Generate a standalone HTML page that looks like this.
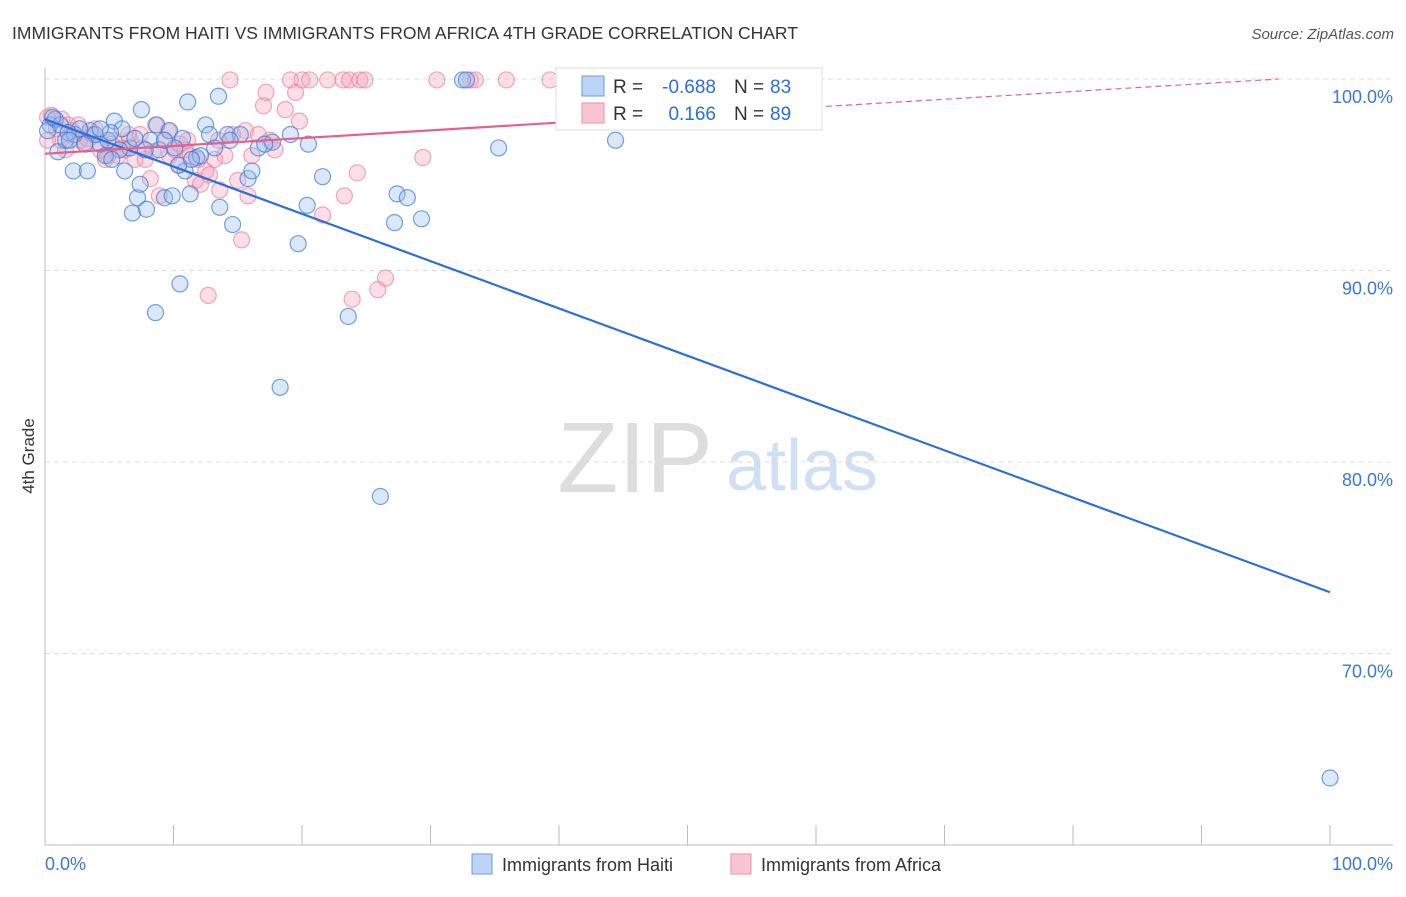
<!DOCTYPE html>
<html><head><meta charset="utf-8"><style>
body{margin:0;background:#fff;font-family:"Liberation Sans",sans-serif;}
svg text{font-family:"Liberation Sans",sans-serif;}
</style></head><body>
<svg id="chart" width="1406" height="892" viewBox="0 0 1406 892" xmlns="http://www.w3.org/2000/svg">
<text x="12" y="39" font-size="17.5" fill="#333">IMMIGRANTS FROM HAITI VS IMMIGRANTS FROM AFRICA 4TH GRADE CORRELATION CHART</text>
<text x="1394" y="39" font-size="15" fill="#555" text-anchor="end" font-style="italic">Source: ZipAtlas.com</text>
<g>
<text x="635" y="492" font-size="100" fill="#ddd" text-anchor="middle" font-family="Liberation Serif">ZIP</text>
<text x="802" y="490" font-size="72" fill="#cfe0f3" text-anchor="middle">atlas</text>
</g>
<g id="grid"></g>
<g id="axes"></g>
<g id="pts"></g>
<g id="lines"></g>
<text transform="translate(34,456) rotate(-90)" font-size="17" fill="#333" text-anchor="middle">4th Grade</text>
<g>
<rect x="556" y="68" width="266" height="62" fill="#fff" stroke="#ddd"/>
<rect x="582" y="76" width="22" height="20" fill="#bcd4f5" stroke="#6a9ee6"/>
<rect x="582" y="103" width="22" height="20" fill="#f9c4d3" stroke="#ec8fab"/>
<text x="613" y="93" font-size="19" fill="#333">R =</text>
<text x="716" y="93" font-size="19" fill="#2a6fd6" text-anchor="end">-0.688</text>
<text x="734" y="93" font-size="19" fill="#333">N =</text>
<text x="770" y="93" font-size="19" fill="#2a6fd6">83</text>
<text x="613" y="120" font-size="19" fill="#333">R =</text>
<text x="716" y="120" font-size="19" fill="#2a6fd6" text-anchor="end">0.166</text>
<text x="734" y="120" font-size="19" fill="#333">N =</text>
<text x="770" y="120" font-size="19" fill="#2a6fd6">89</text>
</g>
<g>
<rect x="472" y="854" width="20" height="20" fill="#bcd4f5" stroke="#6a9ee6"/>
<text x="502" y="871" font-size="18" fill="#333">Immigrants from Haiti</text>
<rect x="731" y="854" width="20" height="20" fill="#f9c4d3" stroke="#ec8fab"/>
<text x="761" y="871" font-size="18" fill="#333">Immigrants from Africa</text>
</g>
</svg>
<script>
const haitiX=[0.4,1.0,1.6,2.2,3.3,3.5,4.3,4.7,4.9,5.4,6.0,6.2,6.6,6.8,7.2,7.4,7.5,7.9,8.2,8.6,8.7,8.9,9.3,9.7,9.9,10.5,10.7,10.9,11.1,11.3,11.8,12.5,12.8,13.2,13.5,13.6,14.2,14.6,15.2,15.8,16.1,16.6,17.7,18.3,19.1,19.7,20.4,20.5,21.6,23.6,26.1,27.2,27.4,28.2,29.3,32.5,32.8,35.3,44.4,100,0.2,0.8,2.3,2.7,3.9,5.1,5.8,7.0,7.8,10.1,12.1,1.2,1.8,3.1,4.3,5.2,9.3,10.4,11.4,17.1,14.4,0.6,1.9];
const haitiY=[97.6,96.2,96.8,95.2,95.2,97.3,96.6,96.0,96.8,97.8,97.4,95.2,96.4,93.0,93.8,94.5,98.4,93.2,96.8,87.8,97.6,96.3,93.8,97.3,93.9,89.3,96.9,95.2,98.8,94.0,95.9,97.6,97.1,96.4,99.1,93.3,97.1,92.4,97.1,94.8,95.2,96.4,96.7,83.9,97.1,91.4,93.4,96.6,94.9,87.6,78.2,92.5,94.0,93.8,92.7,99.95,99.95,96.4,96.8,63.5,97.3,97.9,97.1,97.4,97.1,97.2,96.3,96.9,96.3,96.4,96.0,97.6,97.2,96.6,97.4,95.8,96.8,95.5,95.8,96.6,96.8,98.0,96.8];
const africaX=[0.2,0.5,0.9,1.3,1.8,2.3,2.7,3.3,3.9,4.3,4.7,5.2,5.7,6.2,6.6,7.0,7.4,7.8,8.2,8.6,8.9,9.3,9.7,10.1,10.5,10.9,11.3,11.7,12.1,12.5,12.8,13.2,13.6,14.0,14.4,14.6,15.0,15.3,15.8,16.1,16.6,17.0,17.2,17.5,17.9,18.7,19.1,19.5,19.8,20.0,20.6,21.6,22.0,23.2,23.3,23.7,23.9,24.3,24.5,24.9,25.9,26.5,29.4,30.5,33.1,33.5,35.9,39.3,41.6,1.2,1.6,2.1,2.6,3.1,3.7,4.9,5.4,6.0,6.5,7.6,8.4,9.6,10.4,11.1,11.9,12.7,13.5,15.6,0.2];
const africaY=[98.0,98.1,97.4,97.9,97.6,97.1,96.8,96.9,97.4,96.3,95.8,96.6,96.0,96.3,96.8,95.8,97.1,95.8,94.8,97.6,93.9,96.8,96.0,96.3,96.6,96.3,96.0,94.7,94.5,95.2,95.0,95.8,94.2,96.0,99.95,97.1,94.7,91.6,93.9,96.0,97.1,98.6,99.3,96.8,96.3,98.4,99.95,99.3,97.8,99.95,99.95,92.9,99.95,99.95,93.9,99.95,88.5,95.1,99.95,99.95,89.0,89.6,95.9,99.95,99.95,99.95,99.95,99.95,98.1,96.8,96.3,97.3,97.6,96.7,97.1,96.0,96.8,96.4,97.1,96.4,96.2,97.3,95.5,96.8,95.8,88.7,96.8,97.3,96.8];
const yTicks=[100,90,80,70];
const yTickLabels=["100.0%","90.0%","80.0%","70.0%"];
const xTickLabels=["0.0%","100.0%"];
const haitiTrend=[97.9,73.2];
const africaTrend=[96.1,100.16];
const NS='http://www.w3.org/2000/svg';
const X=v=>45+v*12.85, Y=v=>79+(100-v)*19.15;
function mk(t,a,p){const e=document.createElementNS(NS,t);for(const k in a)e.setAttribute(k,a[k]);p.appendChild(e);return e;}
const grid=document.getElementById('grid'),axes=document.getElementById('axes'),pts=document.getElementById('pts'),lines=document.getElementById('lines');
yTicks.forEach((t,i)=>{
 const g=mk('line',{x1:45,x2:1393,y1:Y(t),y2:Y(t),stroke:'#ddd','stroke-dasharray':'5,4'},grid);
 
 
 const l=mk('text',{x:1393,y:Y(t)+24,'font-size':18,fill:'#3a78d8','text-anchor':'end'},axes);
 l.textContent=yTickLabels[i];
 
 
});
const ax=mk('line',{x1:45,x2:1393,y1:845,y2:845,stroke:'#bbb'},axes);


const ay=mk('line',{x1:45,x2:45,y1:68,y2:845,stroke:'#bbb'},axes);


for(let i=0;i<=10;i++){
 const tk=mk('line',{x1:X(i*10),x2:X(i*10),y1:825,y2:845,stroke:'#bbb'},axes);
 
 
}
[[0,'start',45],[100,'end',1393]].forEach((d,i)=>{
 const l=mk('text',{x:d[2],y:870,'font-size':18,fill:'#3a78d8','text-anchor':d[1]},axes);
 l.textContent=xTickLabels[i];
 
 
});
africaX.forEach((x,i)=>{
 const c=mk('circle',{cx:X(x),cy:Y(africaY[i]),r:8,fill:'rgba(245,160,185,0.35)',stroke:'rgba(236,130,160,0.7)','stroke-width':1.2},pts);
 
 
});
haitiX.forEach((x,i)=>{
 const c=mk('circle',{cx:X(x),cy:Y(haitiY[i]),r:8,fill:'rgba(150,190,240,0.35)',stroke:'rgba(60,120,215,0.7)','stroke-width':1.2},pts);
 
 
});
const hl=mk('line',{x1:X(0),y1:Y(haitiTrend[0]),x2:X(100),y2:Y(haitiTrend[1]),stroke:'#2a6fd6','stroke-width':2.2},lines);


const af=v=>africaTrend[0]+(africaTrend[1]-africaTrend[0])*v/100;
const al=mk('line',{x1:X(0),y1:Y(af(0)),x2:X(60),y2:Y(af(60)),stroke:'#e8608a','stroke-width':2.2},lines);


const ad=mk('line',{x1:X(60),y1:Y(af(60)),x2:X(96),y2:Y(af(96)),stroke:'#e8608a','stroke-width':1.2,'stroke-dasharray':'6,4'},lines);


</script>
</body></html>
